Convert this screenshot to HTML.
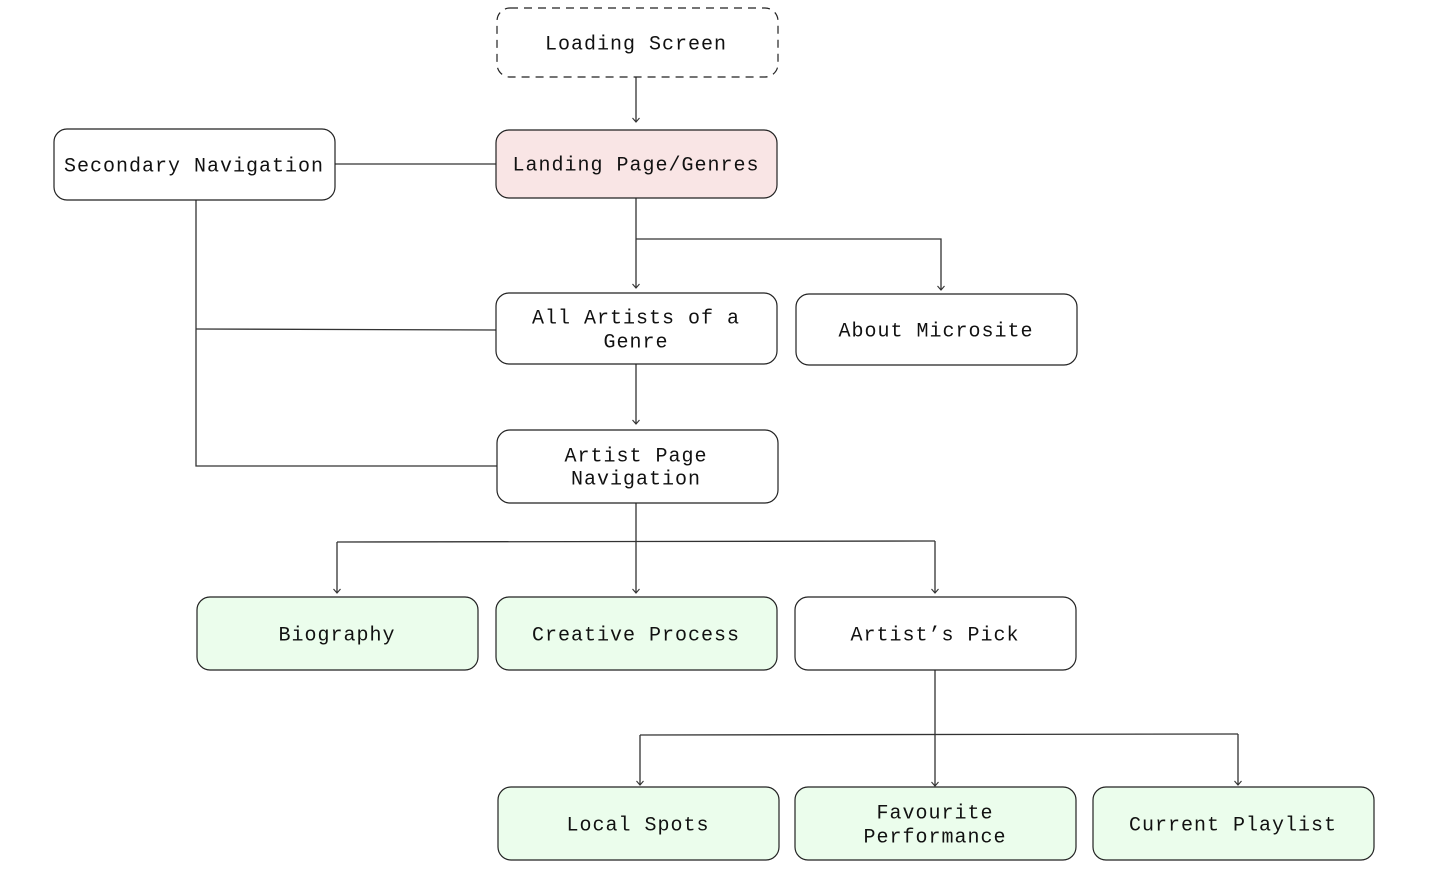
<!DOCTYPE html>
<html><head><meta charset="utf-8"><style>
html,body{margin:0;padding:0;background:#fff;}
svg{display:block;}
text{font-family:"Liberation Mono",monospace;font-size:20px;letter-spacing:1px;fill:#111;text-anchor:middle;dominant-baseline:central;}
.b{stroke:#222;stroke-width:1.2;}
.l{stroke:#333;stroke-width:1.3;fill:none;}
</style></head><body>
<svg width="1431" height="885" viewBox="0 0 1431 885" xmlns="http://www.w3.org/2000/svg">
<defs><marker id="a" markerWidth="10" markerHeight="10" refX="7" refY="5" orient="auto" markerUnits="userSpaceOnUse">
<path d="M3,1.5 L7,5 L3,8.5" fill="none" stroke="#333" stroke-width="1.1"/></marker></defs>
<path class="l" d="M636,77 V122" marker-end="url(#a)"/>
<path class="l" d="M335,164 H496"/>
<path class="l" d="M636,198 V288" marker-end="url(#a)"/>
<path class="l" d="M636,239 H941 V290" marker-end="url(#a)"/>
<path class="l" d="M196,200 V466 H497"/>
<path class="l" d="M196,329 L496,330"/>
<path class="l" d="M636,364 V424" marker-end="url(#a)"/>
<path class="l" d="M636,503 V593" marker-end="url(#a)"/>
<path class="l" d="M337,542 L935,541"/>
<path class="l" d="M337,542 V593" marker-end="url(#a)"/>
<path class="l" d="M935,541 V593" marker-end="url(#a)"/>
<path class="l" d="M935,670 V786" marker-end="url(#a)"/>
<path class="l" d="M640,735 L1238,734"/>
<path class="l" d="M640,735 V785" marker-end="url(#a)"/>
<path class="l" d="M1238,734 V785" marker-end="url(#a)"/>
<rect class="b" x="497" y="8" width="281" height="69" rx="13" fill="#fff" stroke-dasharray="8,6"/>
<text x="636" y="45">Loading Screen</text>
<rect class="b" x="496" y="130" width="281" height="68" rx="13" fill="#f9e5e5"/>
<text x="636" y="166">Landing Page/Genres</text>
<rect class="b" x="54" y="129" width="281" height="71" rx="13" fill="#fff"/>
<text x="194" y="167">Secondary Navigation</text>
<rect class="b" x="496" y="293" width="281" height="71" rx="13" fill="#fff"/>
<text x="636" y="319">All Artists of a</text>
<text x="636" y="343">Genre</text>
<rect class="b" x="796" y="294" width="281" height="71" rx="13" fill="#fff"/>
<text x="936" y="332">About Microsite</text>
<rect class="b" x="497" y="430" width="281" height="73" rx="13" fill="#fff"/>
<text x="636" y="457">Artist Page</text>
<text x="636" y="480">Navigation</text>
<rect class="b" x="197" y="597" width="281" height="73" rx="13" fill="#ebfdec"/>
<text x="337" y="636">Biography</text>
<rect class="b" x="496" y="597" width="281" height="73" rx="13" fill="#ebfdec"/>
<text x="636" y="636">Creative Process</text>
<rect class="b" x="795" y="597" width="281" height="73" rx="13" fill="#fff"/>
<text x="935" y="636">Artist’s Pick</text>
<rect class="b" x="498" y="787" width="281" height="73" rx="13" fill="#ebfdec"/>
<text x="638" y="826">Local Spots</text>
<rect class="b" x="795" y="787" width="281" height="73" rx="13" fill="#ebfdec"/>
<text x="935" y="814">Favourite</text>
<text x="935" y="838">Performance</text>
<rect class="b" x="1093" y="787" width="281" height="73" rx="13" fill="#ebfdec"/>
<text x="1233" y="826">Current Playlist</text>
</svg>
</body></html>
